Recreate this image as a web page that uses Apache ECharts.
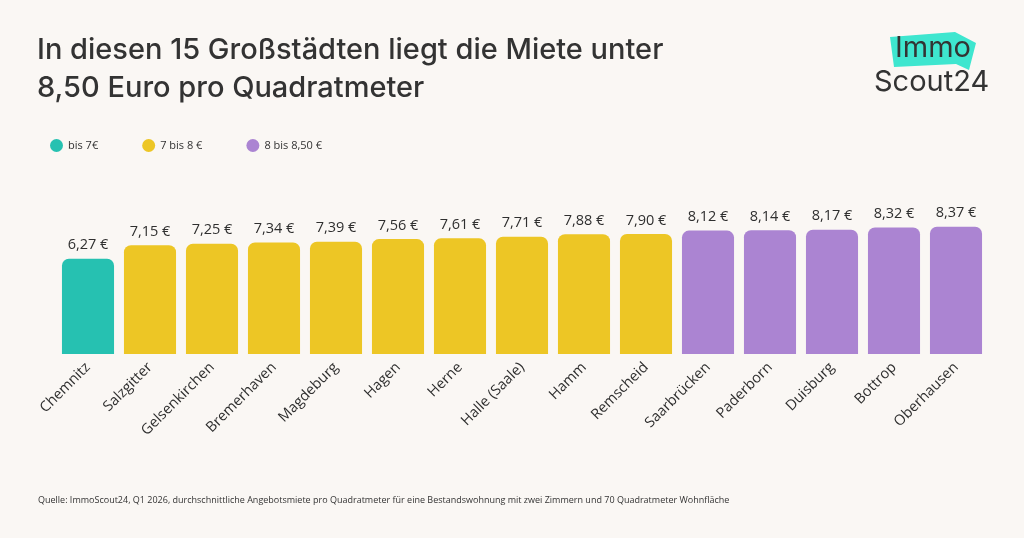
<!DOCTYPE html>
<html>
<head>
<meta charset="utf-8">
<script src="https://cdn.jsdelivr.net/npm/echarts@6/dist/echarts.min.js"></script>
<style>
  html, body { margin: 0; padding: 0; background: #faf7f4; }
  #chart { width: 1024px; height: 538px; }
</style>
</head>
<body>
<div id="chart"></div>
<script>
var cities = ['Chemnitz', 'Salzgitter', 'Gelsenkirchen', 'Bremerhaven', 'Magdeburg', 'Hagen', 'Herne',
  'Halle (Saale)', 'Hamm', 'Remscheid', 'Saarbrücken', 'Paderborn', 'Duisburg', 'Bottrop', 'Oberhausen'];
var rents = [6.27, 7.15, 7.25, 7.34, 7.39, 7.56, 7.61, 7.71, 7.88, 7.90, 8.12, 8.14, 8.17, 8.32, 8.37];
var groupNames = ['bis 7€', '7 bis 8 €', '8 bis 8,50 €'];
var groupColors = ['#26c1b1', '#edc625', '#ab84d2'];

function groupOf(v) {
  if (v < 7) return 0;
  if (v < 8) return 1;
  return 2;
}

var chart = echarts.init(document.getElementById('chart'));

var series = groupNames.map(function (name, g) {
  return {
    name: name,
    type: 'bar',
    stack: 'all',
    barCategoryGap: '16%',
    itemStyle: { color: groupColors[g], borderRadius: [7, 7, 0, 0] },
    label: {
      show: true,
      position: 'top',
      distance: 6,
      color: '#2f2f2f',
      fontFamily: 'Open Sans',
      fontSize: 14.5,
      formatter: function (p) { return p.value.toFixed(2).replace('.', ',') + ' €'; }
    },
    data: rents.map(function (v) { return groupOf(v) === g ? v : '-'; })
  };
});

var option = {
  backgroundColor: '#faf7f4',
  animation: false,
  grid: { left: 57, right: 37, top: 202, bottom: 184 },
  legend: {
    left: 45,
    top: 134,
    icon: 'circle',
    itemWidth: 13,
    itemHeight: 13,
    itemGap: 44,
    textStyle: { color: '#333', fontSize: 11, fontFamily: 'Open Sans' },
    data: groupNames
  },
  xAxis: {
    type: 'category',
    data: cities,
    axisLine: { show: false },
    axisTick: { show: false },
    axisLabel: {
      rotate: 45,
      margin: 11,
      interval: 0,
      color: '#2f2f2f',
      fontFamily: 'Open Sans',
      fontSize: 14.5
    }
  },
  yAxis: {
    type: 'value',
    min: 0,
    max: 10,
    show: false
  },
  series: series,
  graphic: [
    {
      type: 'text', left: 37, top: 31,
      style: {
        text: 'In diesen 15 Großstädten liegt die Miete unter\n8,50 Euro pro Quadratmeter',
        fontFamily: 'Inter', fontSize: 29, fontWeight: 500, lineHeight: 38, fill: '#333'
      }
    },
    {
      type: 'polygon',
      shape: { points: [[890, 37], [955, 32], [976, 43], [969, 70], [956, 64], [894, 67]] },
      style: { fill: '#3ee6cf' }
    },
    {
      type: 'text', left: 895, top: 34,
      style: { text: 'Immo', fontFamily: 'Inter', fontSize: 29, fill: '#333', letterSpacing: -1 }
    },
    {
      type: 'text', left: 874, top: 68,
      style: { text: 'Scout24', fontFamily: 'Inter', fontSize: 29, fill: '#333', letterSpacing: -0.5 }
    },
    {
      type: 'text', left: 38, top: 496,
      style: {
        text: 'Quelle: ImmoScout24, Q1 2026, durchschnittliche Angebotsmiete pro Quadratmeter für eine Bestandswohnung mit zwei Zimmern und 70 Quadratmeter Wohnfläche',
        fontFamily: 'Open Sans', fontSize: 9, fill: '#333'
      }
    }
  ]
};

chart.setOption(option);
</script>
</body>
</html>
